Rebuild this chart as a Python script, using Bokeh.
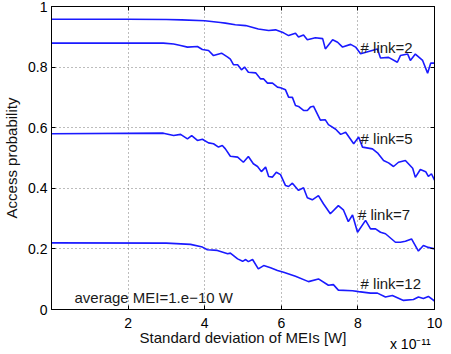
from bokeh.plotting import figure
from bokeh.models import (Range1d, LinearAxis, FixedTicker, NumeralTickFormatter, Label)
from bokeh.embed import file_html
from bokeh.resources import INLINE

# ---- data (x in units of 1e-11 W) ----
x_link2 = [0, 2, 3.0, 3.4, 4.0, 4.41, 4.54, 4.80, 5.07, 5.40,
           5.67, 5.85, 6.06, 6.19, 6.37, 6.45, 6.58, 6.68, 6.89, 7.08,
           7.15, 7.34, 7.47, 7.60, 7.81, 7.94, 8.07, 8.51, 8.59, 8.80,
           9.03, 9.11, 9.30, 9.37, 9.50, 9.69, 9.82, 9.90, 10.0]
y_link2 = [0.958, 0.958, 0.957, 0.956, 0.953, 0.947, 0.945, 0.940, 0.937, 0.926,
           0.921, 0.923, 0.913, 0.904, 0.912, 0.899, 0.906, 0.890, 0.897, 0.894,
           0.860, 0.890, 0.882, 0.866, 0.875, 0.866, 0.844, 0.860, 0.830, 0.832,
           0.816, 0.838, 0.843, 0.822, 0.843, 0.822, 0.780, 0.813, 0.813]

x_link5 = [0, 2.92, 3.19, 3.37, 3.55, 3.81, 3.94, 4.10, 4.23, 4.44,
           4.60, 4.67, 4.75, 4.86, 4.96, 5.04, 5.14, 5.33, 5.46, 5.54,
           5.64, 5.77, 5.90, 5.98, 6.11, 6.19, 6.29, 6.37, 6.45, 6.58,
           6.68, 6.76, 6.84, 7.02, 7.15, 7.23, 7.42, 7.55, 7.68, 7.89,
           8.02, 8.12, 8.38, 8.51, 8.67, 8.80, 8.93, 9.06, 9.24, 9.43,
           9.50, 9.63, 9.77, 9.84, 9.92, 10.0]
y_link5 = [0.879, 0.879, 0.876, 0.871, 0.866, 0.868, 0.858, 0.855, 0.838, 0.846,
           0.833, 0.826, 0.808, 0.808, 0.791, 0.800, 0.783, 0.781, 0.761, 0.761,
           0.747, 0.747, 0.734, 0.732, 0.725, 0.701, 0.700, 0.673, 0.670, 0.657,
           0.657, 0.668, 0.671, 0.625, 0.626, 0.610, 0.595, 0.578, 0.585, 0.547,
           0.569, 0.536, 0.530, 0.517, 0.492, 0.484, 0.472, 0.486, 0.492, 0.466,
           0.436, 0.462, 0.455, 0.439, 0.448, 0.427]

x_link7 = [0, 2.92, 3.19, 3.37, 3.55, 3.66, 3.81, 3.94, 4.10, 4.23,
           4.36, 4.46, 4.54, 4.67, 4.86, 5.01, 5.14, 5.27, 5.38, 5.48,
           5.59, 5.67, 5.77, 5.87, 5.98, 6.11, 6.19, 6.29, 6.45, 6.58,
           6.68, 6.81, 6.97, 7.10, 7.28, 7.49, 7.62, 7.75, 7.86, 7.99,
           8.20, 8.33, 8.46, 8.59, 8.72, 8.98, 9.11, 9.24, 9.40, 9.58,
           9.71, 9.84, 10.0]
y_link7 = [0.580, 0.582, 0.574, 0.578, 0.563, 0.574, 0.558, 0.562, 0.550, 0.547,
           0.536, 0.541, 0.530, 0.506, 0.503, 0.486, 0.505, 0.481, 0.472, 0.455,
           0.470, 0.439, 0.437, 0.453, 0.445, 0.409, 0.406, 0.417, 0.393, 0.402,
           0.369, 0.362, 0.376, 0.349, 0.316, 0.343, 0.329, 0.290, 0.312, 0.255,
           0.294, 0.266, 0.266, 0.255, 0.250, 0.222, 0.222, 0.225, 0.233, 0.193,
           0.211, 0.205, 0.200]

x_link12 = [0, 3.0, 3.63, 3.94, 4.07, 4.33, 4.60, 4.67, 4.86, 4.99,
            5.07, 5.14, 5.25, 5.40, 5.54, 5.72, 5.90, 6.06, 6.37, 6.71,
            6.97, 7.23, 7.36, 7.49, 7.86, 8.02, 8.33, 8.51, 8.72, 8.90,
            9.19, 9.45, 9.58, 9.71, 9.84, 10.0]
y_link12 = [0.220, 0.219, 0.215, 0.206, 0.197, 0.195, 0.184, 0.186, 0.167, 0.159,
            0.165, 0.158, 0.165, 0.134, 0.145, 0.138, 0.129, 0.123, 0.110, 0.092,
            0.101, 0.080, 0.082, 0.064, 0.062, 0.059, 0.054, 0.054, 0.041, 0.046,
            0.030, 0.033, 0.041, 0.036, 0.043, 0.028]

series_labels = ["# link=2", "# link=5", "# link=7", "# link=12"]
x_ticks = [2, 4, 6, 8, 10]
y_ticks = [0, 0.2, 0.4, 0.6, 0.8, 1.0]
x_exponent_text = "x 10\u207b\u00b9\u00b9"
x_exponent_at = 9.37   # where the exponent note is centred on the x axis

FONT = "Liberation Sans"
BLUE = "#1a1aff"

p = figure(width=451, height=354, output_backend="svg", toolbar_location=None,
           x_range=Range1d(0, 10), y_range=Range1d(0, 1),
           min_border_left=51, min_border_right=17, min_border_top=6, min_border_bottom=45,
           background_fill_color="white", border_fill_color="white")
p.outline_line_color = "black"
p.outline_line_width = 1

for xs, ys in [(x_link2, y_link2), (x_link5, y_link5), (x_link7, y_link7), (x_link12, y_link12)]:
    p.line(xs, ys, line_color=BLUE, line_width=1.6)

# grid
p.xgrid.ticker = FixedTicker(ticks=x_ticks)
p.ygrid.ticker = FixedTicker(ticks=y_ticks)
for g in (p.xgrid, p.ygrid):
    g.grid_line_color = "#7a7a7a"
    g.grid_line_dash = "1 3"
    g.grid_line_width = 1

def style_axis(ax, show_labels):
    ax.axis_line_color = "black"
    ax.axis_line_width = 1
    ax.major_tick_in = 4
    ax.major_tick_out = 0
    ax.minor_tick_line_color = None
    ax.major_tick_line_color = "black"
    if show_labels:
        ax.major_label_text_font = FONT
        ax.major_label_text_font_size = "14px"
        ax.major_label_text_color = "black"
        ax.axis_label_text_font = FONT
        ax.axis_label_text_font_size = "15px"
        ax.axis_label_text_font_style = "normal"
        ax.axis_label_text_color = "#111111"
    else:
        ax.major_label_text_font_size = "1px"
        ax.major_label_text_color = None
        ax.major_label_standoff = 0

# bottom: a tick-only axis next to the frame, then a label-only axis
tick_axis = LinearAxis(ticker=FixedTicker(ticks=x_ticks))
style_axis(tick_axis, False)

xa = p.xaxis[0]
xa.ticker = FixedTicker(ticks=x_ticks + [x_exponent_at])
overrides = {t: str(t) for t in x_ticks}
overrides[x_exponent_at] = "\n" + x_exponent_text
xa.major_label_overrides = overrides
xa.axis_label = "Standard deviation of MEIs [W]"
style_axis(xa, True)
xa.axis_line_color = None
xa.major_tick_line_color = None
xa.major_tick_in = 0
xa.major_label_standoff = 5
xa.major_label_text_line_height = 1.35
xa.axis_label_standoff = -26
p.below = [tick_axis, xa]

ya = p.yaxis[0]
ya.ticker = FixedTicker(ticks=y_ticks)
ya.formatter = NumeralTickFormatter(format="0.[0]")
ya.axis_label = "Access probability"
style_axis(ya, True)
ya.major_label_standoff = 4
ya.axis_label_standoff = 5

top = LinearAxis(ticker=FixedTicker(ticks=x_ticks))
style_axis(top, False)
p.add_layout(top, "above")
right = LinearAxis(ticker=FixedTicker(ticks=y_ticks))
style_axis(right, False)
p.add_layout(right, "right")

# curve labels
label_pos = [(8.07, 0.865), (8.07, 0.563), (8.0, 0.312), (8.07, 0.085)]
for txt, (lx, ly) in zip(series_labels, label_pos):
    p.add_layout(Label(x=lx, y=ly, text=txt, text_font=FONT, text_font_size="15px",
                       text_color="#1a1a1a", text_baseline="alphabetic"))

p.add_layout(Label(x=0.6, y=0.04, text="average MEI=1.e\u221210 W", text_font=FONT,
                   text_font_size="15px", text_color="#1a1a1a", text_baseline="alphabetic"))

open("out.html", "w").write(file_html(p, INLINE))
